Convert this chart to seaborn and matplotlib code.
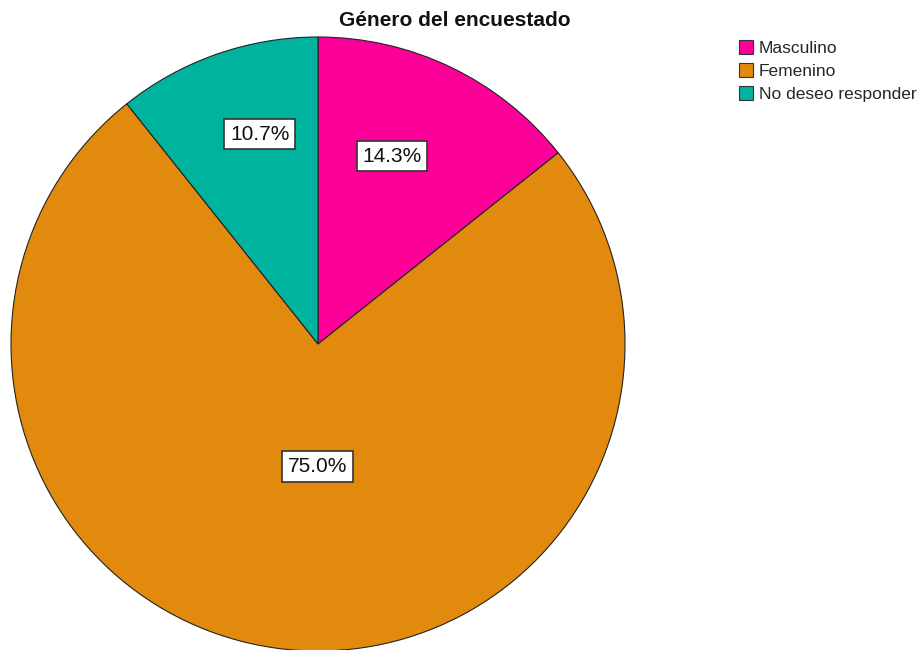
import matplotlib
matplotlib.use("Agg")
import matplotlib.pyplot as plt
import seaborn as sns
from matplotlib.patches import Patch

sns.set_theme(style="white")
plt.rcParams['font.family'] = ['Liberation Sans', 'DejaVu Sans']

categories = ["Masculino", "Femenino", "No deseo responder"]
values = [14.3, 75.0, 10.7]
colors = ["#FC0098", "#E18A0E", "#00B39F"]
title = "Género del encuestado"
# label placement in radius units (annotation layout, not data)
label_pos = [(0.241, 0.612), (-0.003, -0.40), (-0.189, 0.684)]

fig = plt.figure(figsize=(9.19, 6.5), dpi=100)
cx, cy, r = 318, 344, 307
W, H = 919, 650
ax = fig.add_axes([(cx - r) / W, (H - cy - r) / H, 2 * r / W, 2 * r / H])

wedges, texts, autotexts = ax.pie(
    values, colors=colors, startangle=90, counterclock=False,
    autopct="%1.1f%%", pctdistance=0.6,
    wedgeprops=dict(edgecolor="#222222", linewidth=0.8),
    textprops=dict(fontsize=15, color="#111111"),
)
for t, p in zip(autotexts, label_pos):
    t.set_position(p)
    t.set_bbox(dict(boxstyle="square,pad=0.28", facecolor="white", edgecolor="#333333", linewidth=1.2))
ax.set_xlim(-1, 1)
ax.set_ylim(-1, 1)
ax.set_aspect("auto")

fig.text(455 / W, 1 - 20 / H, title, ha="center", va="center", fontsize=15, fontweight="bold",
         color="#111111")

handles = [Patch(facecolor=c, edgecolor="#333333", linewidth=0.8) for c in colors]
fig.legend(handles, categories, loc="upper left", bbox_to_anchor=(736 / W, 1 - 37 / H),
           frameon=False, fontsize=12.5, handlelength=0.8, handleheight=0.8,
           handletextpad=0.3, labelspacing=0.42, borderaxespad=0, borderpad=0.2)

fig.savefig("out.png", dpi=100)
